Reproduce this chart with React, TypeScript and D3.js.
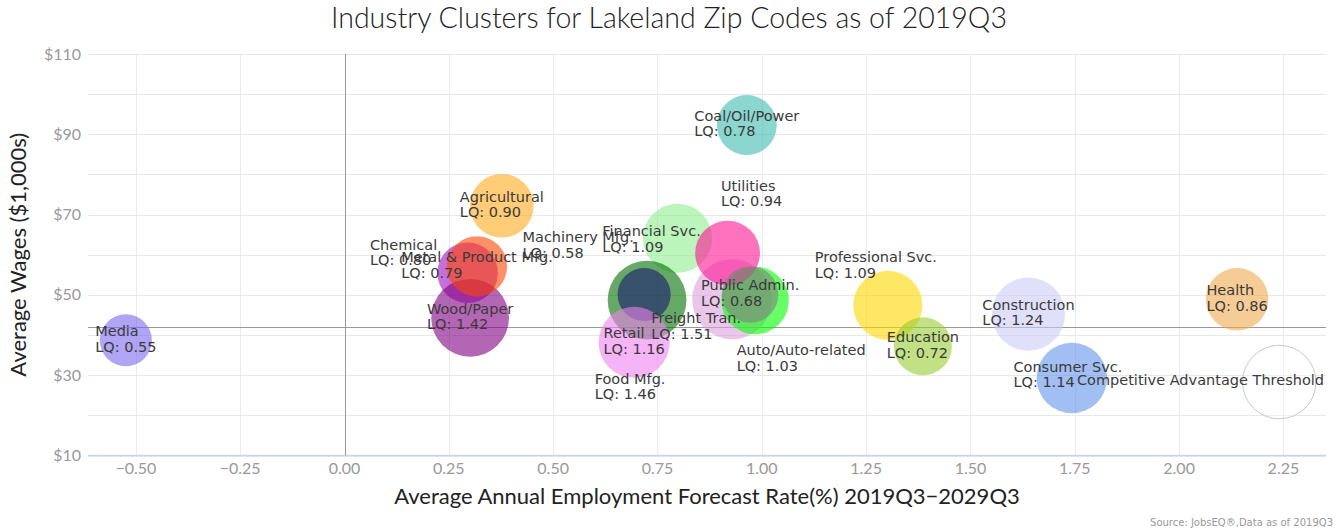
import React, { useEffect, useRef } from "react";
import * as d3 from "d3";

const W = 1338;
const H = 531;
const plot = { left: 88, right: 1326, top: 54, bottom: 455.5 };

// ---- data ----
const industries = [
  "Media", "Coal/Oil/Power", "Agricultural", "Chemical", "Wood/Paper",
  "Metal & Product Mfg.", "Financial Svc.", "Food Mfg.", "Machinery Mfg.", "Retail",
  "Freight Tran.", "Auto/Auto-related", "Utilities", "Public Admin.", "Professional Svc.",
  "Education", "Construction", "Consumer Svc.", "Health",
];
const growthRate = [
  -0.524, 0.964, 0.377, 0.295, 0.301,
  0.3175, 0.798, 0.725, 0.718, 0.694,
  0.929, 0.984, 0.918, 0.972, 1.302,
  1.386, 1.639, 1.743, 2.139,
];
const avgWage = [
  38.7, 92.3, 72.2, 55.5, 44.3,
  57.1, 64.1, 48.7, 50.1, 38.2,
  48.9, 48.6, 60.4, 50.1, 47.4,
  37.2, 45.2, 29.3, 48.9,
];
const locationQuotient = [
  0.55, 0.78, 0.90, 0.80, 1.42,
  0.79, 1.09, 1.46, 0.58, 1.16,
  1.51, 1.03, 0.94, 0.68, 1.09,
  0.72, 1.24, 1.14, 0.86,
];
const thresholdName = "Competitive Advantage Threshold";
const thresholdGrowth = [2.24];
const thresholdWage = [28.3];
const thresholdLQ = [1.25];
const avgWageReference = 42.0;
const growthReference = 0;

const xTickValues = [-0.5, -0.25, 0, 0.25, 0.5, 0.75, 1, 1.25, 1.5, 1.75, 2, 2.25];
const yGridValues = [10, 20, 30, 40, 50, 60, 70, 80, 90, 100, 110];
const yTickLabelValues = [10, 30, 50, 70, 90, 110];

// ---- styling ----
const clusterColors = [
  "#7b68ee", "#3fbbb1", "#ffaa1e", "#a010c0", "#800080",
  "#ff4500", "#90ee90", "#006e00", "#191970", "#ee82ee",
  "#dda0dd", "#00ff00", "#ff1493", "#808080", "#ffd700",
  "#9acd32", "#cbcbf7", "#6495ed", "#f0aa50",
];
const labelNudge: Record<string, [number, number]> = {
  "Chemical": [-64, -19],
  "Financial Svc.": [-26, 2],
  "Food Mfg.": [-17, 88],
  "Machinery Mfg.": [-66, -48],
  "Freight Tran.": [-36, 28],
  "Auto/Auto-related": [46, 59],
  "Utilities": [24, -58],
  "Professional Svc.": [-12, -39],
  "Consumer Svc.": [-4, -2],
};

export default function App() {
  const ref = useRef<SVGSVGElement | null>(null);

  useEffect(() => {
    const svg = d3.select(ref.current);
    svg.selectAll("*").remove();

    const x = d3.scaleLinear().domain([-0.6147, 2.352]).range([plot.left, plot.right]);
    const y = d3.scaleLinear().domain([10, 110]).range([plot.bottom, plot.top]);
    const zExt = d3.extent(locationQuotient) as [number, number];
    const area = d3.scaleLinear().domain(zExt).range([26 * 26, 40 * 40]);
    const r = (z: number) => Math.sqrt(area(z));

    const font = "Lato, 'Open Sans', sans-serif";
    const labelFont = "'DejaVu Sans', Verdana, sans-serif";

    // title
    svg.append("text")
      .attr("x", W / 2).attr("y", 28)
      .attr("text-anchor", "middle")
      .attr("font-family", font).attr("font-weight", 300)
      .attr("font-size", 28.5).attr("fill", "#222")
      .text("Industry Clusters for Lakeland Zip Codes as of 2019Q3");

    // grid
    const g = svg.append("g");
    g.selectAll("line.hg").data(yGridValues).enter().append("line")
      .attr("x1", plot.left).attr("x2", plot.right)
      .attr("y1", (d) => Math.round(y(d)) + 0.5).attr("y2", (d) => Math.round(y(d)) + 0.5)
      .attr("stroke", "#e8e8e8").attr("stroke-width", 1);
    g.selectAll("line.vg").data(xTickValues).enter().append("line")
      .attr("y1", plot.top).attr("y2", plot.bottom)
      .attr("x1", (d) => Math.round(x(d)) + 0.5).attr("x2", (d) => Math.round(x(d)) + 0.5)
      .attr("stroke", "#e8ebf2").attr("stroke-width", 1);

    // x axis line
    g.append("line")
      .attr("x1", plot.left).attr("x2", plot.right)
      .attr("y1", plot.bottom).attr("y2", plot.bottom)
      .attr("stroke", "#ccd6eb").attr("stroke-width", 1.5);

    // reference lines
    g.append("line")
      .attr("x1", Math.round(x(growthReference)) + 0.5).attr("x2", Math.round(x(growthReference)) + 0.5)
      .attr("y1", plot.top).attr("y2", plot.bottom)
      .attr("stroke", "#999").attr("stroke-width", 1);
    g.append("line")
      .attr("x1", plot.left).attr("x2", plot.right)
      .attr("y1", Math.round(y(avgWageReference)) + 0.5).attr("y2", Math.round(y(avgWageReference)) + 0.5)
      .attr("stroke", "#999").attr("stroke-width", 1);

    // tick labels
    svg.append("g").selectAll("text").data(xTickValues).enter().append("text")
      .attr("x", (d) => x(d)).attr("y", 474)
      .attr("text-anchor", "middle")
      .attr("font-family", font).attr("font-size", 16).attr("fill", "#999")
      .text((d) => d3.format(".2f")(d).replace("-", "\u2212"));
    svg.append("g").selectAll("text").data(yTickLabelValues).enter().append("text")
      .attr("x", 81).attr("y", (d) => y(d) + 5.5)
      .attr("text-anchor", "end")
      .attr("font-family", font).attr("font-size", 16).attr("fill", "#999")
      .text((d) => "$" + d);

    // axis titles
    svg.append("text")
      .attr("x", (plot.left + plot.right) / 2).attr("y", 504)
      .attr("text-anchor", "middle")
      .attr("font-family", font).attr("font-size", 22).attr("fill", "#222")
      .text("Average Annual Employment Forecast Rate(%) 2019Q3\u22122029Q3");
    svg.append("text")
      .attr("transform", `translate(26,${(plot.top + plot.bottom) / 2}) rotate(-90)`)
      .attr("text-anchor", "middle")
      .attr("font-family", font).attr("font-size", 22).attr("fill", "#222")
      .text("Average Wages ($1,000s)");

    // bubbles
    const bubbles = svg.append("g");
    industries.forEach((name, i) => {
      bubbles.append("circle")
        .attr("cx", x(growthRate[i])).attr("cy", y(avgWage[i]))
        .attr("r", r(locationQuotient[i]))
        .attr("fill", clusterColors[i]).attr("fill-opacity", 0.6);
    });
    bubbles.append("circle")
      .attr("cx", x(thresholdGrowth[0])).attr("cy", y(thresholdWage[0]))
      .attr("r", r(thresholdLQ[0]))
      .attr("fill", "#fff").attr("fill-opacity", 0.3)
      .attr("stroke", "#c8c8c8").attr("stroke-width", 1);

    // labels
    const labels = svg.append("g")
      .attr("font-family", labelFont).attr("font-size", 14.5).attr("fill", "#3a3a3a");
    const lineH = 15.5;
    industries.forEach((name, i) => {
      const [dx, dy] = labelNudge[name] || [0, 0];
      const cx = x(growthRate[i]) + dx;
      const cy = y(avgWage[i]) + dy;
      const lines = [name, "LQ: " + locationQuotient[i].toFixed(2)];
      const t = labels.append("text");
      const spans = lines.map((l, k) =>
        t.append("tspan").attr("y", cy - lineH / 2 + k * lineH + 3.5).text(l)
      );
      const widths = spans.map((s) => (s.node() as SVGTSpanElement).getComputedTextLength());
      const left = cx - Math.max(...widths) / 2;
      spans.forEach((s) => s.attr("x", left));
    });
    {
      const t = labels.append("text").attr("y", y(thresholdWage[0]) + 3).text(thresholdName);
      const w = (t.node() as SVGTextElement).getComputedTextLength();
      let left = x(thresholdGrowth[0]) - w / 2;
      if (left + w > plot.right - 2) left = plot.right - 2 - w;
      t.attr("x", left);
    }

    // credits
    svg.append("text")
      .attr("x", W - 5).attr("y", 526)
      .attr("text-anchor", "end")
      .attr("font-family", labelFont).attr("font-size", 10).attr("fill", "#999")
      .text("Source: JobsEQ\u00ae,Data as of 2019Q3");
  }, []);

  return (
    <svg
      ref={ref}
      width={W}
      height={H}
      style={{ position: "absolute", left: 0, top: 0, background: "#fff" }}
    />
  );
}
